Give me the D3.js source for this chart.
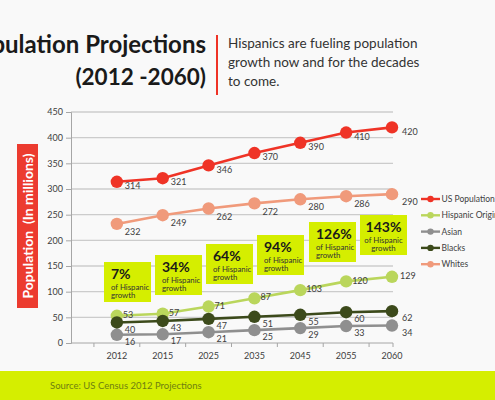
<!DOCTYPE html>
<html><head><meta charset="utf-8">
<script src="https://cdn.jsdelivr.net/npm/d3@7/dist/d3.min.js"></script>
<style>
body{margin:0;background:#f9f9f9;overflow:hidden}
svg{display:block}
text{font-family:Lato,"Open Sans",sans-serif}
</style>
</head><body>
<svg id="chart" width="495" height="400"></svg>
<script>
// ---- data ----
const years = ["2012","2015","2025","2035","2045","2055","2060"];
const usPopulation = [314,321,346,370,390,410,420];
const hispanicOrigin = [53,57,71,87,103,120,129];
const asian = [16,17,21,25,29,33,34];
const blacks = [40,43,47,51,55,60,62];
const whites = [232,249,262,272,280,286,290];
const yTickValues = [0,50,100,150,200,250,300,350,400,450];
const growthLabels = ["7%","34%","64%","94%","126%","143%"];
const titleLines = ["Population Projections","(2012 -2060)"];
const subtitleLines = ["Hispanics are fueling population","growth now and for the decades","to come."];
const source = "Source: US Census 2012 Projections";

const series = [
  {name:"US Population", values:usPopulation, color:"#ef3326", dx:8, dy:4},
  {name:"Hispanic Origin", values:hispanicOrigin, color:"#bad65c", dx:6, dy:-1},
  {name:"Asian", values:asian, color:"#8f8f8f", dx:8, dy:7},
  {name:"Blacks", values:blacks, color:"#3c4a1b", dx:8, dy:7},
  {name:"Whites", values:whites, color:"#f09a7b", dx:8, dy:8}
];

const svg = d3.select("#chart");
const W = 495, H = 400;

// background
svg.append("rect").attr("width",W).attr("height",H).attr("fill","#f9f9f9");

// scales
const x = d3.scalePoint().domain(["", ...years]).range([71, 392]);
const y = d3.scaleLinear().domain([0,450]).range([343,112]);
const step = x.step();

// gridlines
svg.append("g").selectAll("line").data(yTickValues.filter(d=>d>0)).join("line")
  .attr("x1",71).attr("x2",393)
  .attr("y1",d=>y(d)).attr("y2",d=>y(d))
  .attr("stroke","#cccccc").attr("stroke-width",1.3);

// y axis
const yAxis = svg.append("g").attr("transform","translate(71,0)")
  .call(d3.axisLeft(y).tickValues(yTickValues).tickSize(5).tickPadding(3));
yAxis.select(".domain").attr("stroke","#a6a6a6");
yAxis.selectAll(".tick line").attr("stroke","#a6a6a6");
yAxis.selectAll("text").attr("fill","#404040").attr("font-size",9).style("font-family","Lato,sans-serif");

// x axis
const xg = svg.append("g").attr("transform","translate(0,343)");
xg.append("line").attr("x1",71).attr("x2",393).attr("stroke","#a6a6a6");
xg.selectAll("line.tk").data(years).join("line").attr("class","tk")
  .attr("x1",d=>x(d)-step/2).attr("x2",d=>x(d)-step/2).attr("y1",0).attr("y2",4)
  .attr("stroke","#a6a6a6");
xg.append("line").attr("x1",393).attr("x2",393).attr("y1",0).attr("y2",4).attr("stroke","#a6a6a6");
xg.selectAll("text").data(years).join("text")
  .attr("x",d=>x(d)).attr("y",16).attr("text-anchor","middle")
  .attr("font-size",9).attr("fill","#404040").text(d=>d);

// lines & markers
const line = d3.line().x((d,i)=>x(years[i])).y(d=>y(d));
series.forEach(s=>{
  const g = svg.append("g");
  g.append("path").attr("d",line(s.values)).attr("fill","none")
    .attr("stroke",s.color).attr("stroke-width",2.6);
  g.selectAll("circle").data(s.values).join("circle")
    .attr("cx",(d,i)=>x(years[i])).attr("cy",d=>y(d)).attr("r",6.2)
    .attr("fill",s.color);
  g.selectAll("text").data(s.values).join("text")
    .attr("x",(d,i)=>x(years[i])+s.dx + (i===years.length-1?2:0))
    .attr("y",d=>y(d)+s.dy)
    .attr("dy","0.35em")
    .attr("font-size",9).attr("fill","#404040").text(d=>d);
});

// growth boxes (annotations)
const boxW = 47, boxH = 40;
const boxLeft = [104,155,206,257,309,360];
const boxTop = [262,255,244,235,222,215];
growthLabels.forEach((lab,i)=>{
  const g = svg.append("g").attr("transform",`translate(${boxLeft[i]},${boxTop[i]})`);
  g.append("rect").attr("width",boxW).attr("height",boxH).attr("fill","#d5ee00");
  const centered = i===growthLabels.length-1;
  const tx = centered ? boxW/2 : 7;
  const anchor = centered ? "middle" : "start";
  g.append("text").attr("x",tx).attr("y",17).attr("text-anchor",anchor)
    .attr("font-size",14).attr("font-weight","bold").attr("fill","#1a1a1a").text(lab);
  g.append("text").attr("x",tx).attr("y",27.5).attr("text-anchor",anchor)
    .attr("font-size",7.8).attr("fill","#333").text("of Hispanic");
  g.append("text").attr("x",tx).attr("y",36).attr("text-anchor",anchor)
    .attr("font-size",7.8).attr("fill","#333").text("growth");
});

// legend
const lg = svg.append("g");
series.forEach((s,i)=>{
  const yy = 199 + i*16.3;
  lg.append("line").attr("x1",421).attr("x2",440).attr("y1",yy).attr("y2",yy)
    .attr("stroke",s.color).attr("stroke-width",2.4);
  lg.append("circle").attr("cx",430.5).attr("cy",yy).attr("r",3.2).attr("fill",s.color);
  lg.append("text").attr("x",441.5).attr("y",yy).attr("dy","0.35em")
    .attr("font-size",8.5).attr("fill","#404040").text(s.name);
});

// y axis title
svg.append("rect").attr("x",17).attr("y",144).attr("width",21).attr("height",164).attr("fill","#ec3b2f");
svg.append("text").attr("transform","translate(28,226) rotate(-90)")
  .attr("text-anchor","middle").attr("dy","0.36em")
  .attr("font-size",14).attr("font-weight","bold").attr("fill","#fff")
  .attr("xml:space","preserve").text("Population  (In millions)");

// title
svg.selectAll("text.title").data(titleLines).join("text").attr("class","title")
  .attr("x",206).attr("y",(d,i)=>i===0?53:85).attr("text-anchor","end")
  .attr("font-size",(d,i)=>i===0?24:22.5).attr("font-weight","bold").attr("fill","#1a1a1a").text(d=>d);

// red separator
svg.append("line").attr("x1",217).attr("x2",217).attr("y1",35).attr("y2",95)
  .attr("stroke","#ef3326").attr("stroke-width",2);

// subtitle
svg.selectAll("text.sub").data(subtitleLines).join("text").attr("class","sub")
  .attr("x",228).attr("y",(d,i)=>48+i*19).attr("font-size",13.5).attr("fill","#333").text(d=>d);

// footer
svg.append("rect").attr("x",0).attr("y",371).attr("width",W).attr("height",H-371).attr("fill","#d5ee00");
svg.append("text").attr("x",50).attr("y",389).attr("font-size",9.5).attr("fill","#6f7f10").text(source);
</script>
</body></html>
